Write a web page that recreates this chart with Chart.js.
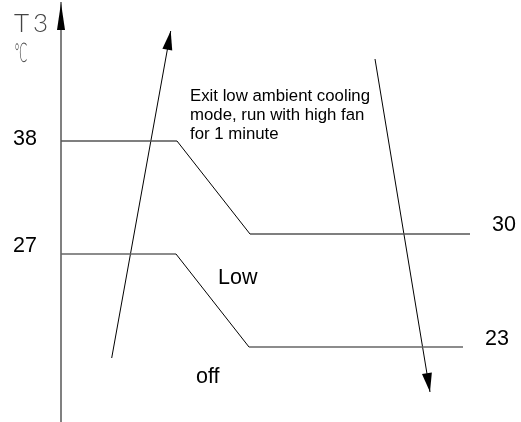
<!DOCTYPE html>
<html>
<head>
<meta charset="utf-8">
<script src="https://cdn.jsdelivr.net/npm/chart.js@4.4.1/dist/chart.umd.min.js"></script>
<style>
  html, body { margin: 0; padding: 0; background: #fff; }
</style>
</head>
<body>
<canvas id="diagram" width="521" height="422"></canvas>
<script>
// schematic units: x runs right from the T3 axis, y runs up from the bottom
const leftTickLabels = ['38', '27'];
const leftTickLevels = [28.15, 17.45];
const rightLabels = ['30', '23'];

const upperX = [0, 11.6, 18.9, 40.9];
const upperY = [28.0, 28.0, 18.7, 18.7];
const lowerX = [0, 11.5, 18.8, 40.2];
const lowerY = [16.7, 16.7, 7.4, 7.4];

// rising / falling temperature arrows
const riseX = [5.07, 10.97];
const riseY = [6.3, 39.0];
const fallX = [31.4, 36.9];
const fallY = [36.2, 2.9];

const noteLines = ['Exit low ambient cooling', 'mode, run with high fan', 'for 1 minute'];
const zoneLabels = ['Low', 'off'];

const toPoints = (xs, ys) => xs.map((v, i) => ({ x: v, y: ys[i] }));

const sans = "'Liberation Sans', Arial, sans-serif";

// where the free text sits (x, baseline), schematic units
const textSpots = {
  right: [[43.1, 19.0], [42.4, 7.6]],
  zones: [[15.7, 13.7], [13.5, 3.8]],
  note: [12.9, 32.0, 1.9],
  t3: [[-4.7, 38.9], [-2.8, 38.9]],
  deg: [-4.7, 35.9]
};

const sketchPlugin = {
  id: 'sketch',
  afterDatasetsDraw(chart) {
    const ctx = chart.ctx;
    const sx = chart.scales.x, sy = chart.scales.y;
    const px = v => sx.getPixelForValue(v);
    const py = v => sy.getPixelForValue(v);

    function head(tx, ty, fx, fy, len, half) {
      const a = Math.atan2(ty - fy, tx - fx);
      ctx.save();
      ctx.translate(tx, ty);
      ctx.rotate(a);
      ctx.beginPath();
      ctx.moveTo(0, 0);
      ctx.lineTo(-len, -half);
      ctx.lineTo(-len, half);
      ctx.closePath();
      ctx.fillStyle = '#000';
      ctx.fill();
      ctx.restore();
    }

    // arrow heads on the two sloped arrows
    [2, 3].forEach(i => {
      const pts = chart.getDatasetMeta(i).data;
      const a = pts[pts.length - 2], b = pts[pts.length - 1];
      head(b.x, b.y, a.x, a.y, 19, 5);
    });
    // arrow head on the T3 axis
    const ax = chart.chartArea.left;
    head(ax, py(sy.max), ax, py(sy.min), 27, 4);

    ctx.save();
    ctx.fillStyle = '#000';
    ctx.textBaseline = 'alphabetic';
    ctx.textAlign = 'left';

    ctx.font = '21.5px ' + sans;
    rightLabels.forEach((t, i) => {
      const p = textSpots.right[i];
      ctx.fillText(t, px(p[0]), py(p[1]));
    });
    zoneLabels.forEach((t, i) => {
      const p = textSpots.zones[i];
      ctx.fillText(t, px(p[0]), py(p[1]));
    });

    ctx.font = '16.8px ' + sans;
    const n = textSpots.note;
    noteLines.forEach((t, i) => {
      ctx.fillText(t, px(n[0]), py(n[1] - i * n[2]));
    });

    ctx.fillStyle = '#444';
    ctx.font = '300 26px Lato, sans-serif';
    ['T', '3'].forEach((t, i) => {
      const p = textSpots.t3[i];
      ctx.fillText(t, px(p[0]), py(p[1]));
    });
    // narrow plotter-style degree sign
    ctx.font = '300 26px Lato, "DejaVu Sans", sans-serif';
    ctx.translate(px(textSpots.deg[0]), py(textSpots.deg[1]));
    ctx.scale(0.46, 1);
    ctx.fillText('\u2103', 0, 0);
    ctx.restore();
  }
};

const flatOrSlope = (flat, slope) => c => (c.p0.parsed.y === c.p1.parsed.y ? flat : slope);

new Chart(document.getElementById('diagram'), {
  type: 'line',
  data: {
    datasets: [
      {
        data: toPoints(upperX, upperY),
        borderColor: '#555',
        segment: { borderColor: flatOrSlope('#555', '#000'), borderWidth: flatOrSlope(1.5, 1) }
      },
      {
        data: toPoints(lowerX, lowerY),
        borderColor: '#555',
        segment: { borderColor: flatOrSlope('#666', '#000'), borderWidth: flatOrSlope(1.6, 1) }
      },
      { data: toPoints(riseX, riseY), borderColor: '#000', borderWidth: 1 },
      { data: toPoints(fallX, fallY), borderColor: '#000', borderWidth: 1 }
    ]
  },
  options: {
    responsive: false,
    animation: false,
    events: [],
    elements: { point: { radius: 0 }, line: { tension: 0, fill: false } },
    layout: { padding: { top: 3, bottom: 1, left: 0, right: 0 } },
    plugins: { legend: { display: false }, tooltip: { enabled: false } },
    scales: {
      x: { type: 'linear', min: 0, max: 46, display: false },
      y: {
        type: 'linear',
        min: 0,
        max: 41.8,
        grid: { display: false, drawTicks: false },
        border: { display: true, color: '#808080', width: 2 },
        afterBuildTicks: scale => { scale.ticks = leftTickLevels.map(v => ({ value: v })); },
        afterFit: scale => { scale.width = 61; scale.paddingTop = 0; scale.paddingBottom = 0; },
        ticks: {
          padding: 24,
          color: '#000',
          font: { family: sans, size: 21.5 },
          callback: (v, i) => leftTickLabels[i]
        }
      }
    }
  },
  plugins: [sketchPlugin]
});
</script>
</body>
</html>
